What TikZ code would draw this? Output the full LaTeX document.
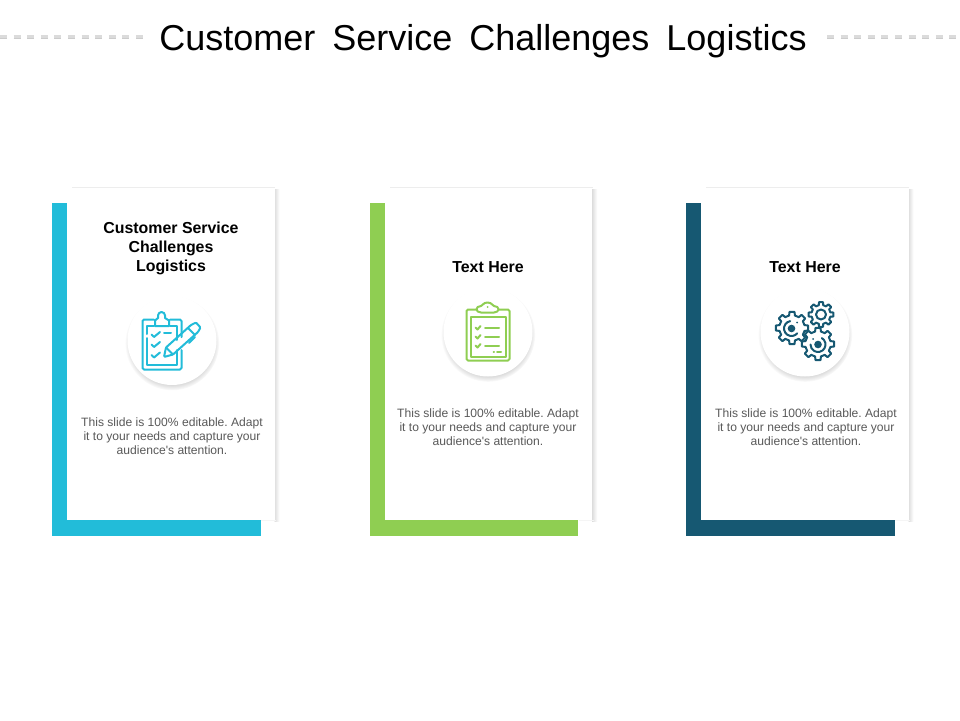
\documentclass[tikz,border=0pt]{standalone}
\usepackage{fontspec}
\setmainfont{Liberation Sans}
\newfontfamily\plainfont{Liberation Sans}
\usetikzlibrary{shadows,fadings}
\definecolor{ccyan}{HTML}{22BCD9}
\definecolor{cgreen}{HTML}{8FCE52}
\definecolor{cdark}{HTML}{165872}
\definecolor{bodygray}{HTML}{595959}
\tikzset{
  titletext/.style={font=\fontsize{36}{40}\selectfont,text=black,inner sep=0pt},
  headtext/.style={font=\fontsize{15.9}{19}\selectfont\bfseries,text=black,align=center,inner sep=0pt},
  bodytext/.style={font=\plainfont\fontsize{12.1}{14}\selectfont,text=bodygray,align=center,inner sep=0pt},
  card/.style={fill=white,draw=none},
  iconline/.style={line width=2pt,line join=round,line cap=round,fill=none},
  iconcircle/.style={circle,fill=white,inner sep=0pt,minimum size=#1,
    circular drop shadow={shadow xshift=0pt,shadow yshift=-2.5pt,shadow scale=1.06,opacity=.35}},
  dashrow/.style={line width=4pt,draw=black!14,dash pattern=on 7pt off 6.6pt},
  dashlow/.style={line width=1.2pt,draw=black!20,dash pattern=on 7pt off 6.6pt}
}
\newcommand{\cardunit}[2]{% left x of band, colour
  \fill[#2] (#1,203) rectangle ++(15,333);
  \fill[#2] (#1,520) rectangle ++(208.6,16);
  \shade[left color=black!13,right color=white] ({#1+222.6},189) rectangle ({#1+227.5},521);
  \fill[black!7] ({#1+20},186.6) rectangle ({#1+223},187.6);
  \fill[black!4] ({#1+209},520) rectangle ({#1+224},521);
  \fill[card] ({#1+15},187.5) rectangle ({#1+222.8},520);
}
\newcommand{\gearshape}[6]{% cx cy r-in r-out teeth rot
  \begin{scope}[shift={(#1,#2)},rotate=#6]
    \pgfmathsetmacro{\stepang}{360/#5}
    \pgfmathsetmacro{\ta}{\stepang*0.29}
    \pgfmathsetmacro{\tb}{\stepang*0.20}
    \pgfmathsetmacro{\lastt}{#5-1}
    \draw[iconline,cdark,fill=white] ({-\ta}:#3)
      \foreach \k in {0,...,\lastt}{
        -- ({\k*\stepang-\ta}:#3) -- ({\k*\stepang-\tb}:#4)
        -- ({\k*\stepang+\tb}:#4) -- ({\k*\stepang+\ta}:#3)
      } -- cycle;
  \end{scope}
}
\begin{document}
\begin{tikzpicture}[x=1pt,y=-1pt]
\useasboundingbox (0,0) rectangle (960,720);
\fill[white] (0,0) rectangle (960,720);
% top rules
\draw[dashrow] (0,36.5) -- (143,36.5);
\draw[dashlow] (0,38.8) -- (143,38.8);
\draw[dashrow] (827,36.5) -- (960,36.5);
\draw[dashlow] (827,38.8) -- (960,38.8);
\node[titletext] (title) at (483,41.5) {\spaceskip=17pt Customer Service Challenges Logistics};
% cards
\cardunit{52}{ccyan}
\cardunit{369.6}{cgreen}
\cardunit{686}{cdark}
% headings
\node[headtext] (h1) at (171,248.5) {Customer Service\\Challenges\\Logistics};
\node[headtext] (h2) at (488,267.5) {Text Here};
\node[headtext] (h3) at (805,267.5) {Text Here};
% circles
\node[iconcircle=89pt] (c1) at (172,340.5) {};
\node[iconcircle=89pt] (c2) at (488,332) {};
\node[iconcircle=89pt] (c3) at (805,332) {};
% body
\node[bodytext] (b1) at (172,436) {\frenchspacing This slide is 100\% editable. Adapt\\it to your needs and capture your\\audience's attention.};
\node[bodytext] (b2) at (488,427) {\frenchspacing This slide is 100\% editable. Adapt\\it to your needs and capture your\\audience's attention.};
\node[bodytext] (b3) at (806,427) {\frenchspacing This slide is 100\% editable. Adapt\\it to your needs and capture your\\audience's attention.};
% icon 1: clipboard and pencil
\begin{scope}[iconline,draw=ccyan]
  \draw[rounded corners=1.5pt] (181.5,337) -- (181.5,319.5) -- (170,319.5);
  \draw[rounded corners=1.5pt] (154,319.5) -- (142.5,319.5) -- (142.5,369.5) -- (181.5,369.5) -- (181.5,350);
  \draw (147,334) -- (147,326) -- (154,326);
  \draw (147,338) -- (147,365) -- (177,365) -- (177,350);
  \draw (170,326) -- (177,326) -- (177,340);
  \draw (155,326) -- (155,320.5) -- (158,318) -- (158,315.5) arc (180:360:3.5) -- (165,318) -- (169,320.5) -- (169,326) -- cycle;
  \draw (151.5,334.5) -- (154,337) -- (160,332);
  \draw (151.5,344.5) -- (154,347) -- (160,342);
  \draw (151.5,355) -- (154,357.5) -- (160,352.5);
  \draw (164,333) -- (171,333);
  \draw[rounded corners=1pt] (164,357) -- (166,347.5) -- (191,325) -- (196,322.5) -- (200.5,327.5) -- (198,332) -- (173,354.5) -- cycle;
  \draw (166,347.5) -- (173,354.5);
  \draw (188,328) -- (195,335);
  \draw (195,337) -- (189,343);
\end{scope}
% icon 2: checklist clipboard
\begin{scope}[iconline,draw=cgreen]
  \draw[rounded corners=1.5pt] (476,309.5) -- (466.5,309.5) -- (466.5,360.5) -- (509.5,360.5) -- (509.5,309.5) -- (499,309.5);
  \draw (470.5,317) rectangle (505.5,356.5);
  \draw (481,312.5) -- (494,312.5) .. controls (500,312.5) and (500,306) .. (494,306) .. controls (492.5,306) and (492,302.5) .. (487.5,302.5) .. controls (483,302.5) and (482.5,306) .. (481,306) .. controls (475,306) and (475,312.5) .. (481,312.5) -- cycle;
  \fill[cgreen] (487.5,307) circle (1);
  \draw (475.5,327.5) -- (477.5,329.5) -- (480.5,326);
  \draw (475.5,336.5) -- (477.5,338.5) -- (480.5,335);
  \draw (475.5,345.5) -- (477.5,347.5) -- (480.5,344);
  \draw (485,327.5) -- (499,327.5);
  \draw (485,337) -- (499,337);
  \draw (485,346) -- (499,346);
  \draw (493.5,352) -- (494,352);
  \draw (497,352) -- (501,352);
\end{scope}
% icon 3: gears
\gearshape{792}{328}{12.8}{16.3}{8}{0}
\gearshape{821}{314.5}{9.6}{12.6}{8}{0}
\gearshape{818}{344}{12.8}{16.3}{8}{0}
\begin{scope}[iconline,draw=cdark]
  \fill[cdark] (791.5,328.5) circle (3.8);
  \draw ([shift={(-100:7.5)}]791.5,328.5) arc (-100:-320:7.5);
  \fill[cdark] (797,322.5) circle (1);
  \draw (821,314.5) circle (5);
  \fill[cdark] (818,344.5) circle (3.8);
  \draw ([shift={(-60:7.5)}]818,344.5) arc (-60:180:7.5);
  \fill[cdark] (813,339) circle (1);
\end{scope}
\end{tikzpicture}
\end{document}
